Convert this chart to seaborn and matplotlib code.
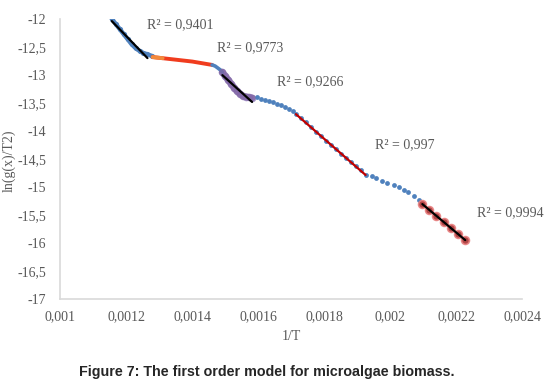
import numpy as np
import pandas as pd
import matplotlib
matplotlib.use("Agg")
import matplotlib.pyplot as plt
from matplotlib.ticker import FuncFormatter, MultipleLocator
import seaborn as sns

# segment 1: steep start (fit R2 = 0,9401)
seg1_x = [0.001157, 0.001169, 0.001181, 0.001193, 0.001205, 0.001217,
          0.001229, 0.001241, 0.001253, 0.001265, 0.001278]
seg1_y = [-12.00, -12.09, -12.18, -12.27, -12.36, -12.45,
          -12.52, -12.57, -12.61, -12.63, -12.66]

# segment 2: flat red part
seg2_x = [0.001281, 0.001311, 0.001341, 0.001371, 0.001401, 0.001431, 0.001461]
seg2_y = [-12.68, -12.70, -12.72, -12.74, -12.76, -12.79, -12.82]

# short blue bridge
bridge_x = [0.001470, 0.001477, 0.001486]
bridge_y = [-12.84, -12.87, -12.91]

# segment 3: purple drop (fit R2 = 0,9773)
seg3_x = [0.001492, 0.001501, 0.001510, 0.001519, 0.001528, 0.001537,
          0.001546, 0.001555, 0.001564, 0.001573, 0.001582]
seg3_y = [-12.95, -13.02, -13.09, -13.16, -13.23, -13.29,
          -13.34, -13.38, -13.39, -13.40, -13.41]

# segment 4: sparse blue dots
seg4_x = [0.001597, 0.001609, 0.001621, 0.001633, 0.001646,
          0.001658, 0.001670, 0.001682, 0.001694, 0.001706]
seg4_y = [-13.40, -13.42, -13.44, -13.46, -13.48,
          -13.51, -13.54, -13.57, -13.61, -13.65]

# segment 5: linear part (fit R2 = 0,997)
seg5_x = [0.001715, 0.001730, 0.001745, 0.001760, 0.001775, 0.001791, 0.001806,
          0.001821, 0.001836, 0.001851, 0.001866, 0.001881, 0.001896, 0.001911,
          0.001926]
seg5_y = [-13.696, -13.768, -13.848, -13.934, -14.014, -14.093, -14.171,
          -14.250, -14.327, -14.404, -14.479, -14.554, -14.629, -14.705,
          -14.777]

# segment 6: sparse blue dots
seg6_x = [0.001944, 0.001959, 0.001977, 0.001992, 0.002011,
          0.002026, 0.002041, 0.002056, 0.002074, 0.002089]
seg6_y = [-14.80, -14.84, -14.89, -14.93, -14.96,
          -15.00, -15.05, -15.09, -15.16, -15.23]

# segment 7: end (fit R2 = 0,9994)
seg7_x = [0.002098, 0.002119, 0.002140, 0.002164, 0.002186, 0.002207, 0.002228]
seg7_y = [-15.30, -15.41, -15.52, -15.63, -15.74, -15.84, -15.95]

r2_labels = ["R² = 0,9401", "R² = 0,9773", "R² = 0,9266", "R² = 0,997", "R² = 0,9994"]
r2_x = [0.001265, 0.001477, 0.001658, 0.001956, 0.002264]
r2_y = [-12.11, -12.52, -13.125, -14.25, -15.45]

BLUE = "#4f81bd"
GREY = "#595959"

sns.set_style("white")
plt.rcParams["font.family"] = ["Liberation Serif", "DejaVu Serif"]

fig = plt.figure(figsize=(5.53, 3.91), dpi=100)
ax = fig.add_axes([60 / 553, 1 - 299 / 391, 462 / 553, 280 / 391])

# dense parts drawn as thick joined dots
sns.lineplot(x=seg1_x, y=seg1_y, sort=False, color=BLUE, lw=3.2, ax=ax)
sns.scatterplot(x=seg1_x, y=seg1_y, color=BLUE, s=14, linewidth=0, ax=ax)
sns.lineplot(x=seg2_x, y=seg2_y, sort=False, color="#f03c1e", lw=2.8, ax=ax)
sns.lineplot(x=seg2_x[:2], y=seg2_y[:2], sort=False, color="#f28a3c", lw=2.8, ax=ax)
sns.lineplot(x=[seg2_x[-1]] + bridge_x + [seg3_x[0]],
             y=[seg2_y[-1]] + bridge_y + [seg3_y[0]],
             sort=False, color=BLUE, lw=2.6, ax=ax)
sns.lineplot(x=seg3_x, y=seg3_y, sort=False, color="#8064a2", lw=5, alpha=0.75, ax=ax)
sns.scatterplot(x=seg3_x, y=seg3_y, color="#8d78b8", s=30, linewidth=0, alpha=0.8, ax=ax)

# sparse blue dots
sparse_x = seg4_x + seg5_x + seg6_x
sparse_y = seg4_y + seg5_y + seg6_y
sns.scatterplot(x=sparse_x, y=sparse_y, color=BLUE, s=12, linewidth=0, ax=ax)

# end markers
sns.scatterplot(x=seg7_x, y=seg7_y, color="#a83232", s=32, edgecolor="#e88080",
                linewidth=1.2, alpha=0.9, ax=ax)

# trendlines
sns.regplot(x=seg1_x[:10], y=seg1_y[:10], scatter=False, ci=None,
            line_kws={"color": "black", "lw": 1.6}, ax=ax)
sns.regplot(x=seg3_x, y=seg3_y, scatter=False, ci=None,
            line_kws={"color": "black", "lw": 1.6}, ax=ax)
sns.regplot(x=seg5_x, y=seg5_y, scatter=False, ci=None,
            line_kws={"color": "#c00000", "lw": 1.6}, ax=ax)
sns.regplot(x=seg7_x, y=seg7_y, scatter=False, ci=None,
            line_kws={"color": "black", "lw": 1.6}, ax=ax)

for lab, tx, ty in zip(r2_labels, r2_x, r2_y):
    ax.text(tx, ty, lab, fontsize=10, color=GREY, ha="left", va="center")

ax.set_xlim(0.001, 0.0024)
ax.set_ylim(-17, -12)
ax.xaxis.set_major_locator(MultipleLocator(0.0002))
ax.yaxis.set_major_locator(MultipleLocator(0.5))
comma = FuncFormatter(lambda v, p: f"{v:g}".replace(".", ","))
ax.xaxis.set_major_formatter(comma)
ax.yaxis.set_major_formatter(comma)
ax.tick_params(length=0, labelsize=10, labelcolor=GREY)
ax.tick_params(axis="y", pad=10)
ax.tick_params(axis="x", pad=8)

sns.despine(ax=ax)
for side in ["left", "bottom"]:
    ax.spines[side].set_color("#d9d9d9")
    ax.spines[side].set_linewidth(1.2)

ax.set_xlabel("")
ax.set_ylabel("")
fig.text(291 / 553, 1 - 336 / 391, "1/T", fontsize=10, color=GREY,
         ha="center", va="center")
fig.text(9 / 553, 1 - 161 / 391, "ln(g(x)/T2)", fontsize=10, color=GREY,
         rotation=90, ha="center", va="center")
fig.text(267 / 553, 1 - 372 / 391, "Figure 7: The first order model for microalgae biomass.",
         fontsize=10.3, fontweight="bold", family="Liberation Sans",
         ha="center", va="center")

fig.savefig("out.png", dpi=100)
